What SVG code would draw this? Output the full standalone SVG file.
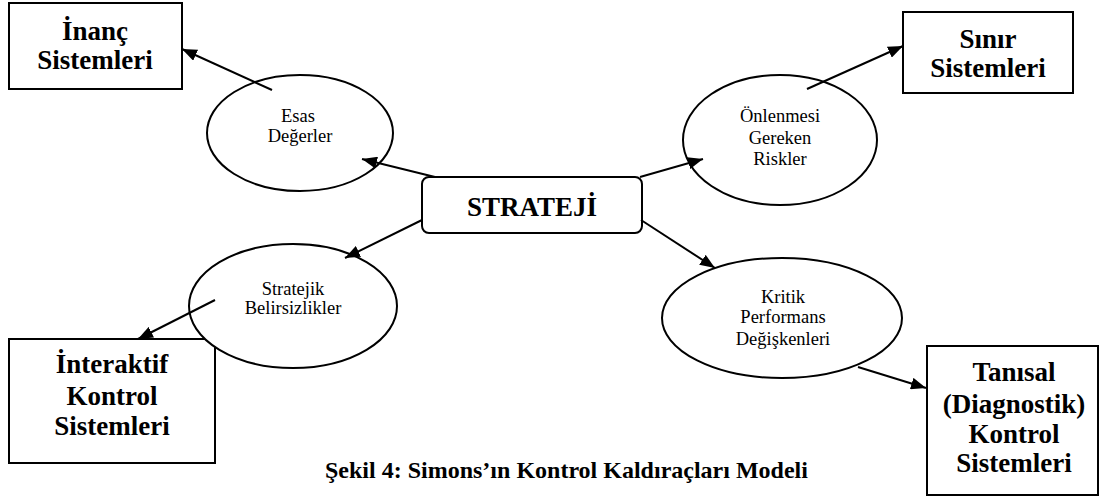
<svg xmlns="http://www.w3.org/2000/svg" width="1105" height="498" viewBox="0 0 1105 498">
<style>
.box{fill:#fff;stroke:#000;stroke-width:2}
.ell{fill:#fff;stroke:#000;stroke-width:2}
.bt{font-weight:bold;font-size:27px;text-anchor:middle;fill:#000}
.et{font-size:18.5px;text-anchor:middle;fill:#000}
.cap{font-weight:bold;font-size:24px;fill:#000}
.con{stroke:#000;stroke-width:2;fill:none;marker-end:url(#ah)}
</style>
<defs>
<marker id="ah" viewBox="0 0 10 10" refX="10" refY="5" markerWidth="15" markerHeight="12" markerUnits="userSpaceOnUse" orient="auto" preserveAspectRatio="none">
<path d="M0,0 L10,5 L0,10 z" fill="#000"/>
</marker>
</defs>
<g font-family="'Liberation Serif', 'Times New Roman', serif">
<g id="inanc"><rect class="box" x="9" y="3" width="173" height="86"/><text class="bt" x="95" y="40">İnanç</text><text class="bt" x="95" y="69">Sistemleri</text></g>
<g id="sinir"><rect class="box" x="903" y="12" width="170" height="81"/><text class="bt" x="988" y="48">Sınır</text><text class="bt" x="988" y="77">Sistemleri</text></g>
<g id="interaktif"><rect class="box" x="9" y="339" width="206" height="124"/><text class="bt" x="112" y="373">İnteraktif</text><text class="bt" x="112" y="405">Kontrol</text><text class="bt" x="112" y="435">Sistemleri</text></g>
<g id="tanisal"><rect class="box" x="927" y="346" width="171" height="149"/><text class="bt" x="1014" y="381">Tanısal</text><text class="bt" x="1014" y="413">(Diagnostik)</text><text class="bt" x="1014" y="443">Kontrol</text><text class="bt" x="1014" y="472">Sistemleri</text></g>
<g id="esas"><ellipse class="ell" cx="300" cy="133" rx="93" ry="58"/><text class="et" x="298" y="122">Esas</text><text class="et" x="300" y="142">Değerler</text></g>
<g id="onlenmesi"><ellipse class="ell" cx="780" cy="140" rx="97" ry="65"/><text class="et" x="780" y="122">Önlenmesi</text><text class="et" x="780" y="144">Gereken</text><text class="et" x="780" y="165">Riskler</text></g>
<g id="stratejik"><ellipse class="ell" cx="293" cy="306" rx="104" ry="62"/><text class="et" x="293" y="295">Stratejik</text><text class="et" x="293" y="314">Belirsizlikler</text></g>
<g id="kritik"><ellipse class="ell" cx="782" cy="318" rx="120" ry="60"/><text class="et" x="783" y="303">Kritik</text><text class="et" x="783" y="323">Performans</text><text class="et" x="783" y="345">Değişkenleri</text></g>
<g id="strateji"><rect class="box" x="422" y="177" width="220" height="56" rx="7"/><text class="bt" x="532" y="216">STRATEJİ</text></g>
<g id="connectors">
<line class="con" x1="272" y1="90" x2="182" y2="49"/>
<line class="con" x1="435" y1="177" x2="362" y2="159"/>
<line class="con" x1="640" y1="177" x2="703" y2="159"/>
<line class="con" x1="807" y1="89" x2="903" y2="46"/>
<line class="con" x1="422" y1="220" x2="345" y2="258"/>
<line class="con" x1="215" y1="300" x2="138" y2="339"/>
<line class="con" x1="641" y1="220" x2="715" y2="268"/>
<line class="con" x1="858" y1="367" x2="926" y2="388"/>
</g>
<text class="cap" x="325" y="478">Şekil 4: Simons’ın Kontrol Kaldıraçları Modeli</text>
</g>
</svg>
